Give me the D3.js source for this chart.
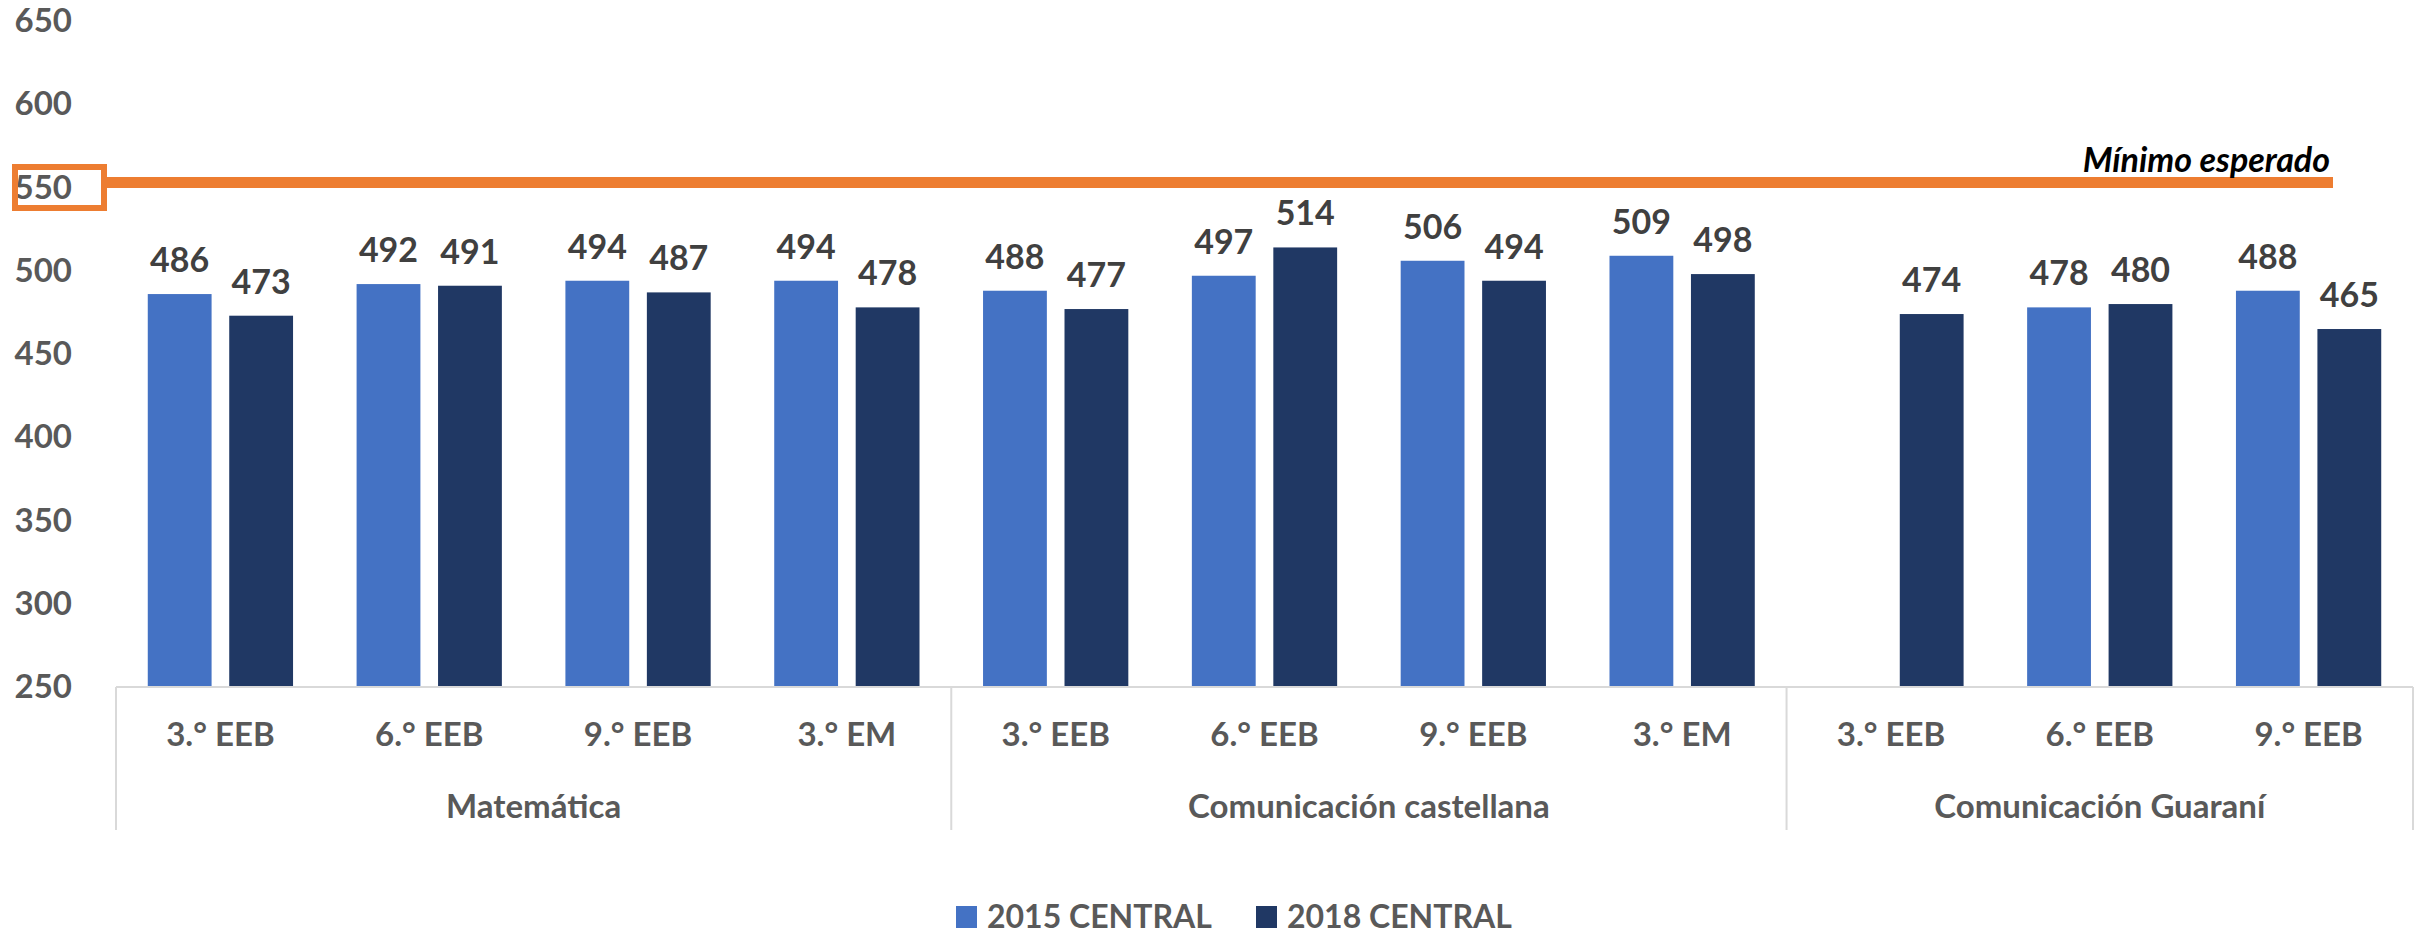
<!DOCTYPE html>
<html>
<head>
<meta charset="utf-8">
<script src="https://cdn.jsdelivr.net/npm/d3@7"></script>
<style>
  body { margin: 0; background: #fff; }
  svg { display: block; font-family: Lato, "Open Sans", sans-serif; font-weight: 700; }
</style>
</head>
<body>
<div id="chart"></div>
<script>
const subjects = ['Matemática', 'Comunicación castellana', 'Comunicación Guaraní'];
const grades = ['3.° EEB', '6.° EEB', '9.° EEB', '3.° EM',
                '3.° EEB', '6.° EEB', '9.° EEB', '3.° EM',
                '3.° EEB', '6.° EEB', '9.° EEB'];
const subjectOfGrade = [0, 0, 0, 0, 1, 1, 1, 1, 2, 2, 2];
const seriesNames = ['2015 CENTRAL', '2018 CENTRAL'];
const values2015 = [486, 492, 494, 494, 488, 497, 506, 509, null, 478, 488];
const values2018 = [473, 491, 487, 478, 477, 514, 494, 498, 474, 480, 465];
const yTicks = [250, 300, 350, 400, 450, 500, 550, 600, 650];
const minimoEsperado = 553;
const minimoLabel = 'Mínimo esperado';

const width = 2417;
const height = 937;
const colors = ['#4472C4', '#203864'];

const svg = d3.select('#chart')
  .append('svg')
  .attr('width', width)
  .attr('height', height);

const x = d3.scaleBand()
  .domain(d3.range(grades.length))
  .range([116, 2413])
  .padding(0);

const x1 = d3.scaleBand()
  .domain([0, 1])
  .range([0, x.bandwidth()])
  .paddingInner(0.2166)
  .paddingOuter(0.39);

const y = d3.scaleLinear()
  .domain([250, 650])
  .range([687, 21]);

// y axis labels only
const yAxis = svg.append('g')
  .attr('transform', 'translate(80,0)')
  .call(d3.axisLeft(y).tickValues(yTicks).tickSize(0).tickPadding(8));
yAxis.select('.domain').remove();
yAxis.selectAll('text')
  .attr('fill', '#595959')
  .style('font-size', '33px')
  .style('font-family', 'Lato, sans-serif')
  .style('font-weight', 700);

// bars
const rows = grades.map((g, i) => ({ i, vals: [values2015[i], values2018[i]] }));

const groupG = svg.selectAll('g.cat')
  .data(rows)
  .enter()
  .append('g')
  .attr('class', 'cat')
  .attr('transform', d => `translate(${x(d.i)},0)`);

const bars = groupG.selectAll('g.bar')
  .data(d => d.vals.map((v, s) => ({ v, s })).filter(d => d.v != null))
  .enter()
  .append('g')
  .attr('class', 'bar');

bars.append('rect')
  .attr('x', d => x1(d.s))
  .attr('width', x1.bandwidth())
  .attr('y', d => y(d.v))
  .attr('height', d => y(250) - y(d.v))
  .attr('fill', d => colors[d.s]);

bars.append('text')
  .attr('x', d => x1(d.s) + x1.bandwidth() / 2)
  .attr('y', d => y(d.v) - 22)
  .attr('text-anchor', 'middle')
  .attr('fill', '#404040')
  .style('font-size', '34px')
  .text(d => d.v);

// category axis
const xAxis = svg.append('g')
  .attr('transform', `translate(0,${y(250)})`)
  .call(d3.axisBottom(x).tickSize(0).tickPadding(0).tickFormat(i => grades[i]));
xAxis.select('.domain').remove();
xAxis.selectAll('text')
  .attr('y', 47)
  .attr('dy', '0.35em')
  .attr('fill', '#595959')
  .style('font-size', '33px')
  .style('font-family', 'Lato, sans-serif')
  .style('font-weight', 700);

svg.append('line')
  .attr('x1', x.range()[0]).attr('x2', x.range()[1])
  .attr('y1', y(250)).attr('y2', y(250))
  .attr('stroke', '#d9d9d9').attr('stroke-width', 2);

// subject spans
const spans = subjects.map((name, k) => {
  const idx = d3.range(grades.length).filter(i => subjectOfGrade[i] === k);
  return { name, x0: x(idx[0]), x1: x(idx[idx.length - 1]) + x.bandwidth() };
});

const edges = [spans[0].x0].concat(spans.map(s => s.x1));
svg.selectAll('line.sep')
  .data(edges)
  .enter()
  .append('line')
  .attr('class', 'sep')
  .attr('x1', d => d).attr('x2', d => d)
  .attr('y1', y(250)).attr('y2', 830)
  .attr('stroke', '#d9d9d9').attr('stroke-width', 2);

svg.selectAll('text.subject')
  .data(spans)
  .enter()
  .append('text')
  .attr('class', 'subject')
  .attr('x', d => (d.x0 + d.x1) / 2)
  .attr('y', 806)
  .attr('dy', '0.35em')
  .attr('text-anchor', 'middle')
  .attr('fill', '#595959')
  .style('font-size', '33px')
  .text(d => d.name);

// minimum expected line + box on 550
svg.append('rect')
  .attr('x', 15)
  .attr('y', y(550) - 20.5)
  .attr('width', 89)
  .attr('height', 41)
  .attr('fill', 'none')
  .attr('stroke', '#ED7D31')
  .attr('stroke-width', 6);

svg.append('line')
  .attr('x1', 107).attr('x2', 2333)
  .attr('y1', y(minimoEsperado)).attr('y2', y(minimoEsperado))
  .attr('stroke', '#ED7D31')
  .attr('stroke-width', 11);

svg.append('text')
  .attr('x', 2330)
  .attr('y', y(minimoEsperado) - 11)
  .attr('text-anchor', 'end')
  .attr('fill', '#000')
  .style('font-size', '34px')
  .style('font-style', 'italic')
  .text(minimoLabel);

// legend
const legendX = [956, 1256];
const legend = svg.selectAll('g.legend')
  .data(seriesNames)
  .enter()
  .append('g')
  .attr('class', 'legend')
  .attr('transform', (d, i) => `translate(${legendX[i]},917)`);

legend.append('rect')
  .attr('x', 0).attr('y', -11)
  .attr('width', 21).attr('height', 22)
  .attr('fill', (d, i) => colors[i]);

legend.append('text')
  .attr('x', 31)
  .attr('dy', '0.35em')
  .attr('fill', '#595959')
  .style('font-size', '32px')
  .text(d => d);
</script>
</body>
</html>
